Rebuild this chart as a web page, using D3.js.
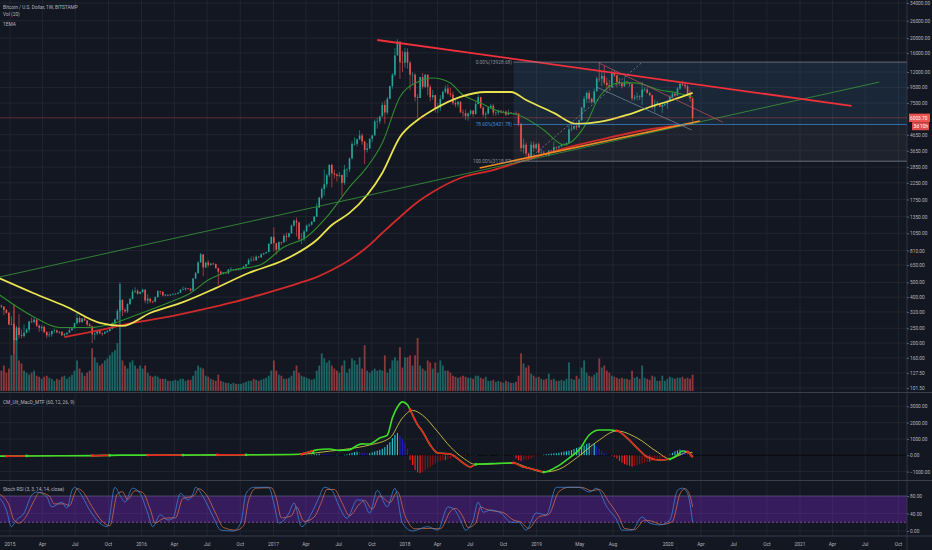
<!DOCTYPE html>
<html>
<head>
<meta charset="utf-8">
<script src="https://cdn.jsdelivr.net/npm/d3@7"></script>
<style>
  body { margin: 0; background: #131722; }
  text { font-family: Roboto, "Liberation Sans", sans-serif; }
</style>
</head>
<body>
<div id="chart"></div>
<script>
const width = 932;
const height = 550;
const plotRight = 907;

// weekly candles, first week starts 2014-12-01; rows are [close, high, low, volume]
const firstWeek = "2014-12-01";
const firstOpen = 380;

const weeks2014 = [
  [352,382,345,23],[347,358,340,20],[330,350,305,25],[316,335,312,18],[265,320,262,22]
];
const weeks2015 = [
  [266,300,262,35],[209,272,170,85],[253,260,208,52],[226,310,215,30],
  [223,245,215,27],[234,265,217,20],[245,250,232,18],[277,280,235,16],
  [275,295,270,18],[285,298,268,20],[260,290,255,15],[252,265,236,14],[256,262,240,12],
  [236,260,232,14],[225,240,215,15],[228,238,218,13],[240,242,220,12],
  [242,248,232,10],[235,245,232,12],[237,240,230,11],[225,240,222,14],
  [229,233,220,15],[234,235,225,12],[243,255,232,14],[250,252,240,16],[270,272,250,20],
  [292,315,265,30],[275,300,270,22],[290,292,270,18],[281,300,280,15],
  [265,283,258,18],[258,270,257,20],[228,260,200,42],[231,235,210,33],[240,242,225,28],
  [232,245,228,25],[231,235,222,27],[236,240,228,30],[240,243,234,32],
  [248,252,238,35],[270,275,246,38],[285,290,265,40],[325,335,282,47],
  [385,500,320,105],[330,385,300,30],[323,340,315,25],[360,365,315,22],[390,395,355,28],
  [435,450,385,30],[440,465,425,25],[421,450,415,22],[432,438,420,25]
];
const weeks2016 = [
  [448,455,425,22],[380,450,365,25],[392,420,360,18],[375,385,365,15],
  [374,380,365,14],[400,405,370,15],[438,445,398,14],[433,440,415,12],[411,440,405,12],
  [412,420,405,12],[410,420,406,10],[416,418,410,10],[420,424,412,10],
  [421,425,415,11],[428,430,420,10],[448,450,426,12],[451,470,445,12],
  [458,465,440,10],[455,460,448,11],[442,458,435,11],[530,535,440,15],[576,585,525,20],
  [677,690,570,25],[763,780,670,23],[627,765,550,22],[675,685,620,15],
  [650,700,630,14],[664,670,645,12],[660,675,650,11],[620,665,615,10],
  [588,625,480,16],[570,598,565,10],[580,585,565,9],[573,585,570,8],[608,612,568,8],
  [608,630,600,7],[608,612,600,8],[602,607,595,7],[612,615,600,7],
  [615,620,605,7],[637,642,612,8],[657,662,630,9],[700,720,655,10],[705,740,680,10],
  [700,740,690,12],[737,752,690,11],[730,745,725,10],[765,775,725,11],
  [778,782,755,12],[790,795,770,13],[895,905,790,15],[995,1000,890,20]
];
const weeks2017 = [
  [903,1150,800,30],[820,910,760,20],[920,930,815,16],[915,925,880,15],[1010,1040,910,12],
  [995,1060,930,12],[1050,1060,980,13],[1180,1200,1040,15],[1270,1290,1160,20],
  [1235,1330,1000,25],[960,1250,950,18],[960,1050,890,15],[1080,1110,930,14],
  [1180,1200,1070,13],[1195,1220,1150,12],[1250,1260,1180,11],[1350,1360,1245,12],
  [1550,1650,1340,20],[1800,1820,1540,25],[2050,2100,1750,37],[2200,2750,1850,32],[2520,2580,2100,28],
  [2950,2980,2450,30],[2600,3000,2100,25],[2550,2750,2400,22],[2500,2600,2300,20],
  [2530,2650,2450,18],[2250,2550,1850,25],[2750,2950,2180,30],[2760,2800,2450,18],[3250,3300,2650,22],
  [4050,4200,3200,32],[4050,4480,3950,30],[4350,4380,3900,26],[4600,4980,4300,33],
  [4200,4750,4000,22],[3700,4250,2980,45],[3780,4100,3560,20],[4380,4400,3750,18],
  [4600,4650,4150,20],[5680,5860,4600,22],[5700,6000,5100,20],[6130,6200,5450,21],[7300,7600,6130,20],
  [6500,7800,5500,35],[8000,8250,6300,18],[9700,9740,7950,22],[11500,11800,9300,30],
  [15400,17200,11200,33],[19000,19666,15800,30],[13900,19000,10800,43],[13800,16500,12000,23]
];
const weeks2018 = [
  [16200,17250,12800,33],[13800,17150,12600,33],[11500,14200,9100,35],[11500,12000,10000,25],[8200,11800,7700,35],
  [8100,8600,6000,52],[11100,11200,8100,25],[9600,11800,9300,22],[11500,11650,9400,20],
  [9550,11600,8450,30],[8200,9900,7700,28],[8450,9150,7900,22],[6900,8500,6500,28],
  [7000,7500,6450,18],[8000,8450,6650,30],[8900,9050,7900,25],[9350,9800,8700,20],[8650,9950,8550,20],
  [8500,9500,8200,18],[7500,8900,7300,15],[7350,8100,7050,14],[7630,7800,7050,13],
  [6500,7750,6500,14],[6450,6800,6100,15],[6150,6800,5800,14],[6400,6500,5750,13],
  [6700,6800,6250,13],[6350,6700,6100,12],[7400,7700,6300,15],[8200,8500,7350,15],[7000,8250,6900,13],
  [6300,7150,6100,12],[6400,6600,5900,14],[7000,7000,6300,10],[7200,7400,6850,10],
  [6500,7400,6200,11],[6500,6600,6200,9],[6700,6800,6250,10],[6600,6650,6400,9],
  [6600,6700,6500,8],[6300,6700,6150,10],[6500,6800,6250,9],[6420,6550,6350,8],[6420,6500,6250,8],
  [6400,6600,6350,9],[5500,6450,5300,15],[3800,5400,3600,37],[4000,4400,3500,27],
  [3500,4150,3350,23],[3230,3550,3120,25],[4000,4200,3250,17],[3800,4200,3600,15],[4030,4100,3700,13]
];
const weeks2019 = [
  [3550,4150,3500,14],[3550,3750,3500,12],[3530,3650,3450,11],[3410,3520,3370,12],
  [3650,3700,3350,17],[3600,3700,3550,11],[3850,4200,3600,12],[3830,3900,3700,10],
  [3900,3950,3700,10],[4000,4050,3850,11],[4020,4100,3950,10],[4100,4150,3950,12],
  [5050,5350,4100,28],[5100,5450,4900,12],[5300,5350,5000,11],[5200,5650,5000,15],[5800,5850,5150,12],
  [7000,7100,5700,23],[8000,8350,6600,30],[8750,8950,7500,18],[8000,9100,7500,15],
  [7600,8150,7450,14],[8950,9350,7500,16],[10850,11200,8950,18],[10800,13929,10300,32],
  [11300,12200,9700,23],[10200,13200,9850,25],[9850,11000,9050,20],[9550,10650,9200,18],[11800,12300,9450,15],
  [11400,12300,11100,14],[10300,11450,9500,13],[10150,10950,9750,12],[9650,10300,9350,13],
  [10400,10900,9650,12],[10300,10500,9950,12],[10000,10300,9600,11],[8050,10050,7750,20],[8200,8500,7800,13],
  [8300,8800,7800,14],[8200,8450,7850,12],[9200,10350,7300,25],[9200,9500,8950,13],
  [8750,9500,8650,12],[8450,8900,8300,11],[7050,8500,6800,15],[7400,7900,6500,14],
  [7500,7750,7250,10],[7100,7500,7050,10],[7300,7550,6450,15],[7400,7650,7150,10],[7750,7850,6850,12]
];
const weeks2020 = [
  [8200,8450,7700,14],[8650,8950,8100,13],[8400,8750,8250,12],[9350,9550,8450,13],
  [10050,10200,9150,13],[9900,10500,9700,14],[9650,10250,9300,12],[8550,9950,8450,13],
  [8050,9200,7650,12],[6003.7,8150,5700,16]
];

// moving averages, [week index, price]
const emaYellow = [[0,534],[13.5,426],[27,345],[40,271],[49,259],[60,315],[73,371],[86,459],[99,576],
  [113,701],[126,948],[132,1190],[139,1428],[146,1873],[152,2612],[159,4497],[166,5815],[172,6760],
  [183,8250],[193,8870],[203,8870],[209,7860],[220,6470],[229,5480],[238,5640],[249,6270],[258,7070],
  [267,7860],[275,8740]];
const emaGreen = [[0,417],[13.5,299],[24,253],[36,253],[44,265],[53,299],[67,366],[76,426],[83,518],
  [93,603],[103.5,650],[113,853],[122,992],[130,1343],[139,2111],[146,2860],[152,4110],[159,8220],
  [166,10300],[172,10960],[179,10170],[183,8740],[191,7500],[199,6560],[206,6270],[216,5000],
  [224,3990],[233,5560],[238,8220],[246,10170],[252,10170],[262,9150],[269,8740],[275,8220]];
const emaRed = [[26,219],[40,243],[53,271],[67,297],[80,330],[93,371],[106,426],[119,495],[126,542],
  [132,603],[139,701],[146,853],[152,1055],[159,1343],[166,1683],[172,1958],[183,2420],[196,2730],
  [209,3175],[222,3700],[238,4300],[254,4920],[275,5480]];

// drawings, [week index, price]
const resistanceLine = [[150,19450],[338,7180]];
const longSupport = [[0,541],[349,10300]];
const lowerSupport = [[190.6,2815],[277.8,5730]];
const channelTop = [[238,13700],[287,5625]];
const channelBottom = [[237,9540],[274.6,5000]];
const fibDiagonal = [[210.5,3275],[255.2,13950]];
const fibStartWeek = 204;
const fibLevels = [["0.00%", 13928.68], ["78.60%", 5431.78], ["100.00%", 3118.57]];
const lastPrice = 6003.70;
const countdown = "3d 10h";

// MACD, [week index, value]
const macdLine = [[0,-60],[12,-40],[24,-30],[37,-20],[48,10],[60,10],[80,20],[99,30],[119,60],[123,200],
  [126,330],[131,380],[135,300],[139,330],[142,600],[144,700],[147,690],[151,1060],[154,1240],[156,2290],
  [158,2960],[160,3270],[162,3090],[163,2790],[166,1870],[168,1440],[171,630],[174,140],[179,80],
  [181,-100],[184,-470],[187,-720],[189,-560],[197,-500],[204,-470],[208,-720],[213,-900],[216,-1030],
  [221,-720],[226,-170],[230,330],[234,1240],[238,1550],[242,1550],[245,1500],[249,1060],[253,450],
  [257,-100],[262,-290],[266,-230],[269,20],[271,260],[273,200],[275,-100]];
const macdSignal = [[0,-40],[40,-20],[80,10],[119,40],[123,100],[131,250],[139,400],[147,630],[155,1060],
  [160,2290],[164,2750],[168,2450],[174,1430],[179,510],[184,-160],[189,-560],[197,-520],[204,-470],
  [209,-720],[216,-1030],[222,-860],[229,-160],[237,820],[245,1490],[253,1060],[261,200],[266,-220],
  [270,20],[273,190],[275,150]];
// crossings, alternating: turns red, turns green, ...
const macdCrosses = [[3,-50],[11,-40],[37,-20],[44,0],[59,10],[73,15],[86.5,20],[98,30],[120,60],
  [124.5,150],[163,2790],[189,-560],[204,-470],[216,-1030],[245,1500],[266,-230],[273,200]];
// weekly histogram from week 122 (2017-04-03)
const histStartWeek = 122;
const macdHist = [
  20,30,40,60,80,90,80,70,60,50,40,30,30,
  20,10,30,60,100,150,200,220,
  200,150,120,100,120,180,230,
  280,330,400,500,650,800,1050,1250,1370,1200,1000,750,400,-300,-600,-900,-1050,-1100,-1000,-900,
  -800,-700,-600,-500,-400,-350,-300,-300,-250,-200,-100,-30,
  20,10,-20,-30,-10,10,
  10,20,10,5,0,5,10,5,0,0,5,10,10,5,0,-10,-20,
  -200,-300,-350,-300,-280,-250,-200,
  -120,-60,-20,10,
  40,60,80,100,120,120,150,
  180,220,250,280,320,380,450,500,550,600,700,750,700,
  700,550,400,250,100,
  50,0,-50,-100,
  -200,-350,-450,-550,-600,-650,-700,-650,-600,-550,-500,-450,-400,-400,-350,-300,-250,-200,-150,-100,-50,
  50,150,250,300,350,330,280,200,
  -80,-150
];

// Stoch RSI, [week index, value]
const stochK = [[0,78],[3,48],[5,10],[7,25],[10,41],[13,82],[15,89],[19,78],[21,55],[25,66],[27,52],
  [29,93],[30,100],[32,89],[36,48],[40,18],[43,10],[46,100],[48,82],[50,66],[53,98],[56,86],[59,41],
  [61,10],[64,37],[67,25],[69,29],[72,86],[75,71],[77,86],[78,100],[81,78],[85,32],[88,2],[93,0],
  [96,20],[98,86],[101,100],[107,100],[109,64],[111,18],[115,41],[117,64],[120,10],[124,41],[127,78],
  [129,100],[132,93],[135,55],[138,29],[142,71],[144,71],[147,41],[150,93],[154,55],[157,98],[160,18],
  [164,0],[170,10],[174,2],[178,55],[180,52],[183,25],[185,2],[188,25],[190,66],[192,43],[195,48],
  [199,41],[203,20],[206,20],[209,2],[213,41],[217,37],[221,100],[225,100],[230,100],[234,89],[237,98],
  [241,55],[245,25],[247,2],[251,2],[255,32],[258,18],[262,14],[266,25],[269,93],[271,98],[273,86],[275,20]];
const stochD = [[0,85],[4,60],[6,25],[8,18],[11,35],[14,70],[16,88],[20,80],[22,62],[26,62],[28,58],
  [30,85],[31,97],[33,92],[37,55],[41,22],[44,12],[47,85],[49,90],[51,72],[54,92],[57,88],[60,50],
  [62,18],[65,28],[68,30],[70,30],[73,75],[76,78],[78,85],[79,97],[82,85],[86,40],[89,8],[94,2],
  [97,12],[99,70],[102,98],[108,99],[110,75],[112,30],[116,35],[118,55],[121,22],[125,32],[128,68],
  [130,95],[133,95],[136,65],[139,35],[143,62],[145,70],[148,50],[151,80],[155,65],[158,90],[161,35],
  [165,5],[171,6],[175,5],[179,45],[181,52],[184,32],[186,8],[189,18],[191,55],[193,50],[196,46],
  [200,42],[204,25],[207,20],[210,6],[214,32],[218,38],[222,90],[226,100],[231,100],[235,92],[238,95],
  [242,65],[246,30],[248,6],[252,3],[256,25],[259,22],[263,15],[267,22],[270,85],[272,97],[274,80],[275,55]];

// axis ticks
const timeTicks = ["2015-01-01","2015-04-01","2015-07-01","2015-10-01","2016-01-01","2016-04-01",
  "2016-07-01","2016-10-01","2017-01-01","2017-04-01","2017-07-01","2017-10-01","2018-01-01",
  "2018-04-01","2018-07-01","2018-10-01","2019-01-01","2019-05-01","2019-08-01","2020-01-01",
  "2020-04-01","2020-07-01","2020-10-01","2021-01-01","2021-04-01","2021-07-01","2021-10-01"];
const priceTicks = [34000,26000,20000,16000,12000,9500,7500,4650,3650,2850,2250,1750,1350,1050,
  810,650,500,400,320,250,200,160,127.5,101.5];
const macdTicks = [3000,2000,1000,0,-1000];
const stochTicks = [80,40,0];

const textColor = "#b2b5be";
const gridColor = "#242835";
const fontSize = 4.8;

const svg = d3.select("#chart")
    .append("svg")
    .attr("width", width)
    .attr("height", height);

svg.append("rect").attr("width", width).attr("height", height).attr("fill", "#131722");

const start = d3.utcParse("%Y-%m-%d")(firstWeek);
const weekDate = w => d3.utcDay.offset(start, Math.round(7 * w));

const x = d3.scaleUtc()
    .domain([new Date(Date.UTC(2015, 0, 1)), new Date(Date.UTC(2021, 0, 1))])
    .range([10, 800]);
const y = d3.scaleLog().domain([101.5, 34000]).range([388, 3]);
const yVol = d3.scaleLinear().domain([0, 105]).range([391, 284]);
const yMacd = d3.scaleLinear().domain([-1000, 3000]).range([471.6, 406.3]);
const yStoch = d3.scaleLinear().domain([0, 100]).range([531, 487.3]);

const xw = w => x(weekDate(w));

const defs = svg.append("defs");
defs.append("clipPath").attr("id", "clipMain")
    .append("rect").attr("x", 0).attr("y", 0).attr("width", plotRight).attr("height", 392);
defs.append("clipPath").attr("id", "clipMacd")
    .append("rect").attr("x", 0).attr("y", 393).attr("width", plotRight).attr("height", 87);
defs.append("clipPath").attr("id", "clipStoch")
    .append("rect").attr("x", 0).attr("y", 481).attr("width", plotRight).attr("height", 55);

// grid
const tickDates = timeTicks.map(d3.utcParse("%Y-%m-%d"));
svg.append("g").selectAll("line").data(tickDates).enter().append("line")
    .attr("x1", d => x(d)).attr("x2", d => x(d))
    .attr("y1", 0).attr("y2", 536)
    .attr("stroke", gridColor).attr("stroke-width", 0.8);

function hGrid(ticks, scale) {
    svg.append("g").selectAll("line").data(ticks).enter().append("line")
        .attr("x1", 0).attr("x2", plotRight)
        .attr("y1", d => scale(d)).attr("y2", d => scale(d))
        .attr("stroke", gridColor).attr("stroke-width", 0.8);
}
hGrid(priceTicks, y);
hGrid(macdTicks, yMacd);
hGrid(stochTicks, yStoch);

// candles
const rows = [].concat(weeks2014, weeks2015, weeks2016, weeks2017, weeks2018, weeks2019, weeks2020);
let prevClose = firstOpen;
const candles = rows.map((r, i) => {
    const c = { w: i, open: prevClose, close: r[0], high: r[1], low: r[2], vol: r[3] };
    prevClose = r[0];
    return c;
});

const main = svg.append("g").attr("clip-path", "url(#clipMain)");

// fib retracement box
const fibX = xw(fibStartWeek);
main.append("rect")
    .attr("x", fibX).attr("width", plotRight - fibX)
    .attr("y", y(fibLevels[0][1])).attr("height", y(fibLevels[1][1]) - y(fibLevels[0][1]))
    .attr("fill", "rgba(70,150,200,0.13)");
main.append("rect")
    .attr("x", fibX).attr("width", plotRight - fibX)
    .attr("y", y(fibLevels[1][1])).attr("height", y(fibLevels[2][1]) - y(fibLevels[1][1]))
    .attr("fill", "rgba(130,133,145,0.10)");

// volume
main.append("g").selectAll("rect").data(candles).enter().append("rect")
    .attr("x", d => xw(d.w) - 0.9)
    .attr("width", 1.8)
    .attr("y", d => yVol(d.vol))
    .attr("height", d => yVol(0) - yVol(d.vol))
    .attr("fill", d => d.close >= d.open ? "rgba(38,166,154,0.55)" : "rgba(239,83,80,0.55)");

// candles
const upColor = "#26a69a", downColor = "#ef5350";
const cg = main.append("g");
cg.selectAll("line").data(candles).enter().append("line")
    .attr("x1", d => xw(d.w)).attr("x2", d => xw(d.w))
    .attr("y1", d => y(Math.max(d.high, d.open, d.close)))
    .attr("y2", d => y(Math.min(d.low, d.open, d.close)))
    .attr("stroke", d => d.close >= d.open ? upColor : downColor)
    .attr("stroke-width", 0.6);
cg.selectAll("rect").data(candles).enter().append("rect")
    .attr("x", d => xw(d.w) - 0.8)
    .attr("width", 1.6)
    .attr("y", d => y(Math.max(d.open, d.close)))
    .attr("height", d => Math.max(0.6, y(Math.min(d.open, d.close)) - y(Math.max(d.open, d.close))))
    .attr("fill", d => d.close >= d.open ? upColor : downColor);

// moving averages
const maLine = d3.line().x(d => xw(d[0])).y(d => y(d[1])).curve(d3.curveMonotoneX);
main.append("path").datum(emaRed).attr("d", maLine)
    .attr("fill", "none").attr("stroke", "#d02a2a").attr("stroke-width", 1.8);
main.append("path").datum(emaGreen).attr("d", maLine)
    .attr("fill", "none").attr("stroke", "#2e8b2e").attr("stroke-width", 1.1);
main.append("path").datum(emaYellow).attr("d", maLine)
    .attr("fill", "none").attr("stroke", "#e8e34e").attr("stroke-width", 1.8);

// drawings
const straight = d3.line().x(d => xw(d[0])).y(d => y(d[1]));
main.append("path").datum(longSupport).attr("d", straight)
    .attr("stroke", "#3a9a3a").attr("stroke-width", 0.8).attr("fill", "none");
main.append("path").datum(lowerSupport).attr("d", straight)
    .attr("stroke", "#f08a24").attr("stroke-width", 1.6).attr("fill", "none");
main.append("path").datum(resistanceLine).attr("d", straight)
    .attr("stroke", "#f0303a").attr("stroke-width", 1.8).attr("fill", "none");
main.append("path").datum(channelTop).attr("d", straight)
    .attr("stroke", "#c8505a").attr("stroke-width", 0.7).attr("fill", "none");
main.append("path").datum(channelBottom).attr("d", straight)
    .attr("stroke", "#7d8aa3").attr("stroke-width", 0.7).attr("fill", "none");
main.append("path").datum(fibDiagonal).attr("d", straight)
    .attr("stroke", "#8a8f9c").attr("stroke-width", 0.7).attr("stroke-dasharray", "2,2").attr("fill", "none");

// fib level lines and labels
const fibColors = ["#8a8f9c", "#3d8fd6", "#8a8f9c"];
fibLevels.forEach((lv, i) => {
    main.append("line")
        .attr("x1", fibX).attr("x2", plotRight)
        .attr("y1", y(lv[1])).attr("y2", y(lv[1]))
        .attr("stroke", fibColors[i]).attr("stroke-width", 0.7);
    main.append("text")
        .attr("x", fibX - 1.5).attr("y", y(lv[1]))
        .attr("dy", "0.35em").attr("text-anchor", "end")
        .attr("font-size", fontSize).attr("fill", fibColors[i])
        .text(`${lv[0]}(${lv[1].toFixed(2)})`);
});

// last price line
main.append("line")
    .attr("x1", 0).attr("x2", plotRight)
    .attr("y1", y(lastPrice)).attr("y2", y(lastPrice))
    .attr("stroke", "#ef5350").attr("stroke-opacity", 0.6).attr("stroke-width", 0.6);

// MACD pane
const macdG = svg.append("g").attr("clip-path", "url(#clipMacd)");
macdG.append("line")
    .attr("x1", 0).attr("x2", plotRight)
    .attr("y1", yMacd(0)).attr("y2", yMacd(0))
    .attr("stroke", "#000").attr("stroke-width", 0.8);

macdG.append("g").selectAll("rect").data(macdHist).enter().append("rect")
    .attr("x", (d, i) => xw(histStartWeek + i) - 0.55)
    .attr("width", 1.1)
    .attr("y", d => Math.min(yMacd(d), yMacd(0)))
    .attr("height", d => Math.abs(yMacd(d) - yMacd(0)))
    .attr("fill", (d, i) => {
        const prev = i > 0 ? macdHist[i - 1] : 0;
        if (d >= 0) return d >= prev ? "#2ec4cf" : "#2020c8";
        return d <= prev ? "#ff1f1f" : "#8b1414";
    });

const macdPath = d3.line().x(d => xw(d[0])).y(d => yMacd(d[1])).curve(d3.curveMonotoneX);
macdG.append("path").datum(macdSignal).attr("d", macdPath)
    .attr("fill", "none").attr("stroke", "#e6d84a").attr("stroke-width", 0.8);

// red stretches of the MACD line, between a red cross and the next green one
const redClip = defs.append("clipPath").attr("id", "clipMacdRed");
macdCrosses.forEach((c, i) => {
    if (i % 2 !== 0) return;
    const x0 = xw(c[0]);
    const x1 = i + 1 < macdCrosses.length ? xw(macdCrosses[i + 1][0]) : plotRight;
    redClip.append("rect").attr("x", x0).attr("y", 393).attr("width", x1 - x0).attr("height", 87);
});
macdG.append("path").datum(macdLine).attr("d", macdPath)
    .attr("fill", "none").attr("stroke", "#3fdc2a").attr("stroke-width", 1.6);
macdG.append("path").datum(macdLine).attr("d", macdPath)
    .attr("clip-path", "url(#clipMacdRed)")
    .attr("fill", "none").attr("stroke", "#e82222").attr("stroke-width", 1.6);
macdG.append("g").selectAll("circle").data(macdCrosses).enter().append("circle")
    .attr("cx", d => xw(d[0])).attr("cy", d => yMacd(d[1]))
    .attr("r", 1.4)
    .attr("fill", (d, i) => i % 2 === 0 ? "#ff2a2a" : "#33e02a");

// Stoch RSI pane
const stG = svg.append("g").attr("clip-path", "url(#clipStoch)");
stG.append("rect")
    .attr("x", 0).attr("width", plotRight)
    .attr("y", yStoch(80)).attr("height", yStoch(20) - yStoch(80))
    .attr("fill", "rgba(120,40,200,0.36)");
stG.append("line")
    .attr("x1", 0).attr("x2", plotRight).attr("y1", yStoch(80)).attr("y2", yStoch(80))
    .attr("stroke", "#6f5a8c").attr("stroke-width", 0.6);
stG.append("line")
    .attr("x1", 0).attr("x2", plotRight).attr("y1", yStoch(20)).attr("y2", yStoch(20))
    .attr("stroke", "#b070c0").attr("stroke-width", 0.6).attr("stroke-dasharray", "2,2");
const stPath = d3.line().x(d => xw(d[0])).y(d => yStoch(d[1])).curve(d3.curveMonotoneX);
stG.append("path").datum(stochD).attr("d", stPath)
    .attr("fill", "none").attr("stroke", "#e0764a").attr("stroke-width", 0.7);
stG.append("path").datum(stochK).attr("d", stPath)
    .attr("fill", "none").attr("stroke", "#3d8ee6").attr("stroke-width", 0.7);

// pane separators
[392.5, 480.5, 536].forEach(v => {
    svg.append("line").attr("x1", 0).attr("x2", width).attr("y1", v).attr("y2", v)
        .attr("stroke", "#3a3e4a").attr("stroke-width", 1);
});
svg.append("line").attr("x1", plotRight).attr("x2", plotRight).attr("y1", 0).attr("y2", height)
    .attr("stroke", "#3a3e4a").attr("stroke-width", 0.8);

// right axes
function rightAxis(scale, ticks) {
    const g = svg.append("g")
        .attr("transform", `translate(${plotRight},0)`)
        .call(d3.axisRight(scale).tickValues(ticks).tickFormat(d3.format(".2f")).tickSize(2).tickPadding(1));
    g.select(".domain").remove();
    g.selectAll("line").attr("stroke", "#5d606b");
    g.selectAll("text").attr("fill", textColor).attr("font-size", fontSize)
        .attr("font-family", "Roboto, sans-serif");
}
rightAxis(y, priceTicks);
rightAxis(yMacd, macdTicks);
rightAxis(yStoch, stochTicks);

// last price tag
const ly = y(lastPrice);
svg.append("rect").attr("x", plotRight + 2).attr("y", ly - 4.2).attr("width", 21).attr("height", 8.4)
    .attr("fill", "#f05252");
svg.append("text").attr("x", plotRight + 3).attr("y", ly).attr("dy", "0.35em")
    .attr("font-size", fontSize).attr("fill", "#fff").text(lastPrice.toFixed(2));
svg.append("rect").attr("x", plotRight + 5).attr("y", ly + 4.4).attr("width", 17).attr("height", 8)
    .attr("fill", "#e04c4c");
svg.append("text").attr("x", plotRight + 6.5).attr("y", ly + 8.4).attr("dy", "0.35em")
    .attr("font-size", fontSize).attr("fill", "#fff").text(countdown);

// time axis
svg.append("g").selectAll("text").data(tickDates).enter().append("text")
    .attr("x", d => x(d)).attr("y", 544).attr("dy", "0.35em")
    .attr("text-anchor", "middle")
    .attr("font-size", fontSize).attr("fill", textColor)
    .text(d => d.getUTCMonth() === 0 ? d3.utcFormat("%Y")(d) : d3.utcFormat("%b")(d));

// legends
const legend = [["Bitcoin / U.S. Dollar, 1W, BITSTAMP", 7], ["Vol (20)", 14], ["1EMA", 24],
    ["CM_Ult_MacD_MTF (60, 12, 26, 9)", 402], ["Stoch RSI (3, 3, 14, 14, close)", 489]];
svg.append("g").selectAll("text").data(legend).enter().append("text")
    .attr("x", 3).attr("y", d => d[1]).attr("dy", "0.35em")
    .attr("font-size", fontSize).attr("fill", textColor)
    .text(d => d[0]);
</script>
</body>
</html>
